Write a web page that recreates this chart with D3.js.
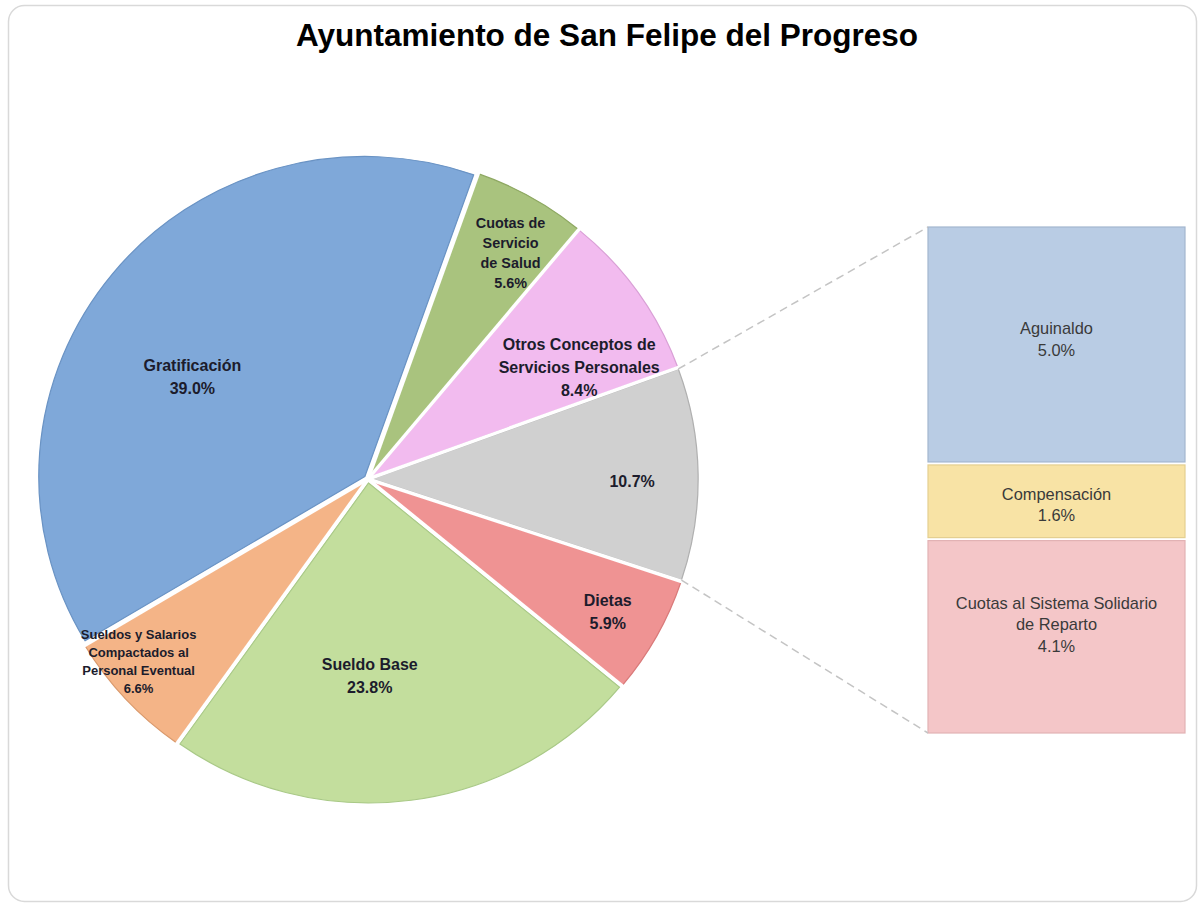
<!DOCTYPE html>
<html>
<head>
<meta charset="utf-8">
<script src="https://cdn.jsdelivr.net/npm/d3@7"></script>
<style>
  html, body { margin: 0; padding: 0; background: #ffffff; }
  svg { display: block; }
</style>
</head>
<body>
<svg id="chart" width="1204" height="903"></svg>
<script>
// ---------------- DATA ----------------
const titleText = "Ayuntamiento de San Felipe del Progreso";

const pieCategories = [
  "Cuotas de Servicio de Salud",
  "Otros Conceptos de Servicios Personales",
  "Otros",
  "Dietas",
  "Sueldo Base",
  "Sueldos y Salarios Compactados al Personal Eventual",
  "Gratificación"
];
const pieValues = [5.6, 8.4, 10.7, 5.9, 23.8, 6.6, 39.0];
const pieLabelLines = [
  ["Cuotas de", "Servicio", "de Salud"],
  ["Otros Conceptos de", "Servicios Personales"],
  [],
  ["Dietas"],
  ["Sueldo Base"],
  ["Sueldos y Salarios", "Compactados al", "Personal Eventual"],
  ["Gratificación"]
];

const barCategories = ["Aguinaldo", "Compensación", "Cuotas al Sistema Solidario de Reparto"];
const barValues = [5.0, 1.6, 4.1];
const barLabelLines = [["Aguinaldo"], ["Compensación"], ["Cuotas al Sistema Solidario", "de Reparto"]];

// ---------------- STYLE / LAYOUT ----------------
const pieColors = ["#a9c37e", "#f2bbef", "#d0d0d0", "#ef9393", "#c3de9d", "#f4b487", "#7fa8d9"];
const pieStrokes = ["#8ea862", "#d9a0d6", "#b0b0b0", "#d97a7a", "#a9c987", "#d9996c", "#6a93c4"];
const barColors = ["#b9cce4", "#f8e3a5", "#f4c6c8"];
const barStrokes = ["#a3b6cf", "#e4cf90", "#e2b2b4"];
// label placement: angle shift (deg) from slice middle and radius fraction
const labelAngleShift = [2.2, 7, 1.5, 0.5, 7, 3.8, -8.8];
const labelRadiusFrac = [0.83, 0.735, 0.81, 0.845, 0.615, 0.905, 0.625];
const labelNarrow = [true, false, false, false, false, true, false];
const barLabelNudge = [-6, 3, -12];

const W = 1204, H = 903;
const cx = 368, cy = 479, R = 320, sx = 1.019;
const explode = 4;
const startDeg = 19.5;

const svg = d3.select("#chart");

// card border
svg.append("rect")
  .attr("x", 8.5).attr("y", 5.5).attr("width", 1188).attr("height", 896)
  .attr("rx", 16).attr("ry", 16)
  .attr("fill", "#ffffff").attr("stroke", "#d9d9d9").attr("stroke-width", 1.5);

// title
svg.append("text")
  .attr("x", 607).attr("y", 46)
  .attr("text-anchor", "middle")
  .attr("font-family", "'Liberation Sans', Arial, sans-serif")
  .attr("font-weight", "bold")
  .attr("font-size", 31.5)
  .attr("fill", "#000")
  .text(titleText);

// pie
const toRad = d => d * Math.PI / 180;
const pie = d3.pie().sort(null).value(d => d)
  .startAngle(toRad(startDeg)).endAngle(toRad(startDeg) + 2 * Math.PI);
const arcs = pie(pieValues);
const arc = d3.arc().innerRadius(0).outerRadius(R);

const pieG = svg.append("g").attr("transform", `translate(${cx},${cy}) scale(${sx},1)`);

pieG.selectAll("path.slice")
  .data(arcs)
  .join("path")
  .attr("class", "slice")
  .attr("transform", d => {
    const m = (d.startAngle + d.endAngle) / 2;
    return `translate(${explode * Math.sin(m)},${-explode * Math.cos(m)})`;
  })
  .attr("d", arc)
  .attr("fill", (d, i) => pieColors[i])
  .attr("stroke", (d, i) => pieStrokes[i])
  .attr("stroke-width", 1.2)
  .attr("stroke-linejoin", "round");

// white separators along slice boundaries
pieG.selectAll("line.sep")
  .data(arcs)
  .join("line")
  .attr("class", "sep")
  .attr("x1", 0).attr("y1", 0)
  .attr("x2", d => (R + 6) * Math.sin(d.startAngle))
  .attr("y2", d => -(R + 6) * Math.cos(d.startAngle))
  .attr("stroke", "#fff").attr("stroke-width", 3.5);

// pie labels
const fmt = d3.format(".1f");
arcs.forEach((d, i) => {
  const m = (d.startAngle + d.endAngle) / 2 + toRad(labelAngleShift[i]);
  const r = R * labelRadiusFrac[i];
  const lx = cx + sx * r * Math.sin(m);
  const ly = cy - r * Math.cos(m);
  const lines = pieLabelLines[i].concat([fmt(pieValues[i]) + "%"]);
  const narrow = labelNarrow[i];
  const lh = narrow ? (i === 0 ? 20 : 18) : 23;
  const fs = narrow ? (i === 0 ? 14.4 : 13) : 16;
  const t = svg.append("text")
    .attr("text-anchor", "middle")
    .attr("font-family", "'Liberation Sans', Arial, sans-serif")
    .attr("font-weight", "bold")
    .attr("font-size", fs)
    .attr("fill", "#1c1c2c");
  lines.forEach((ln, k) => {
    t.append("tspan")
      .attr("x", lx)
      .attr("y", ly + (k - (lines.length - 1) / 2) * lh)
      .attr("dominant-baseline", "central")
      .text(ln);
  });
});

// bar of pie
const barX = 928, barW = 257, barTop = 227, barBottom = 733;
const barTotal = d3.sum(barValues);
const yBar = d3.scaleLinear().domain([0, barTotal]).range([barTop, barBottom]);
let acc = 0;
const stacked = barValues.map((v, i) => { const s = { i, v, y0: acc, y1: acc + v }; acc += v; return s; });

svg.selectAll("rect.seg")
  .data(stacked)
  .join("rect")
  .attr("class", "seg")
  .attr("x", barX)
  .attr("y", d => yBar(d.y0) + (d.i === 0 ? 0 : 1.5))
  .attr("width", barW)
  .attr("height", d => yBar(d.y1) - yBar(d.y0) - (d.i === 0 ? 1.5 : 3) + (d.i === stacked.length - 1 ? 1.5 : 0))
  .attr("fill", d => barColors[d.i])
  .attr("stroke", d => barStrokes[d.i])
  .attr("stroke-width", 1.2);

stacked.forEach(d => {
  const lines = barLabelLines[d.i].concat([fmt(d.v) + "%"]);
  const my = (yBar(d.y0) + yBar(d.y1)) / 2 + barLabelNudge[d.i];
  const lh = 21.5;
  const t = svg.append("text")
    .attr("text-anchor", "middle")
    .attr("font-family", "'Liberation Sans', Arial, sans-serif")
    .attr("font-size", 16.4)
    .attr("fill", "#3a3a3a");
  lines.forEach((ln, k) => {
    t.append("tspan")
      .attr("x", barX + barW / 2)
      .attr("y", my + (k - (lines.length - 1) / 2) * lh)
      .attr("dominant-baseline", "central")
      .text(ln);
  });
});

// connector lines from gray slice to bar
const g = arcs[2];
const gm = (g.startAngle + g.endAngle) / 2;
const ox = explode * Math.sin(gm), oy = -explode * Math.cos(gm);
const p1 = [cx + sx * (R * Math.sin(g.startAngle) + ox), cy - R * Math.cos(g.startAngle) + oy];
const p2 = [cx + sx * (R * Math.sin(g.endAngle) + ox), cy - R * Math.cos(g.endAngle) + oy];
[[p1, [barX, barTop]], [p2, [barX, barBottom]]].forEach(([a, b]) => {
  svg.append("line")
    .attr("x1", a[0]).attr("y1", a[1]).attr("x2", b[0]).attr("y2", b[1])
    .attr("stroke", "#c4c4c4").attr("stroke-width", 1.5)
    .attr("stroke-dasharray", "8,5");
});
</script>
</body>
</html>
